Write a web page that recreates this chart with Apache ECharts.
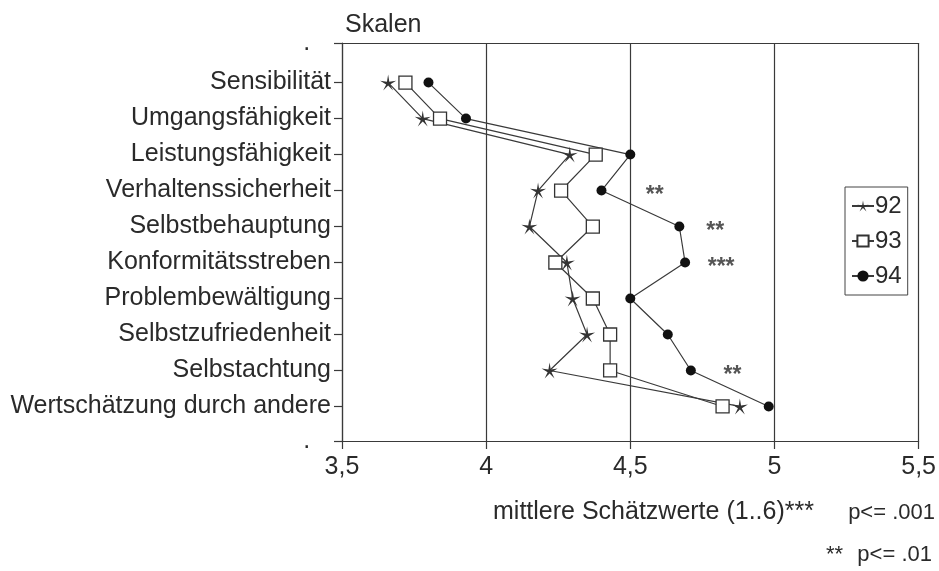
<!DOCTYPE html>
<html>
<head>
<meta charset="utf-8">
<script src="https://cdn.jsdelivr.net/npm/echarts@6/dist/echarts.min.js"></script>
<style>
  html, body { margin: 0; padding: 0; background: #fff; }
  #chart { width: 939px; height: 571px; }
</style>
</head>
<body>
<div id="chart"></div>
<script>
// Scale names, top to bottom
const scales = [
  'Sensibilität',
  'Umgangsfähigkeit',
  'Leistungsfähigkeit',
  'Verhaltenssicherheit',
  'Selbstbehauptung',
  'Konformitätsstreben',
  'Problembewältigung',
  'Selbstzufriedenheit',
  'Selbstachtung',
  'Wertschätzung durch andere'
];

// Mean ratings (1..6) per survey year
const years = ['92', '93', '94'];
const mean92 = [3.66, 3.78, 4.29, 4.18, 4.15, 4.28, 4.30, 4.35, 4.22, 4.88];
const mean93 = [3.72, 3.84, 4.38, 4.26, 4.37, 4.24, 4.37, 4.43, 4.43, 4.82];
const mean94 = [3.80, 3.93, 4.50, 4.40, 4.67, 4.69, 4.50, 4.63, 4.71, 4.98];

// Significance marks per scale, and where along the value axis they start
const sigMarks = ['', '', '', '**', '**', '***', '', '', '**', ''];
const sigPos   = [0, 0, 0, 4.55, 4.76, 4.765, 0, 0, 4.82, 0];

// X axis tick labels
const xTicks = { 3.5: '3,5', 4: '4', 4.5: '4,5', 5: '5', 5.5: '5,5' };

const FONT = 'Liberation Sans, Arial, sans-serif';
const INK = '#2a2a2a';
const LINE = '#3a3a3a';
const FS = 25;

const starPath = 'path://M50 0 L57 40 L97.55 34.55 L61.5 55.5 L79.39 90.45 L50 62 L20.61 90.45 L38.5 55.5 L2.45 34.55 L43 40 Z';

// Row positions for ticks: frame top, the ten scales, frame bottom
const rowValues = [-0.1, 1, 2, 3, 4, 5, 6, 7, 8, 9, 10, 10.96];

function toPairs(arr) {
  return arr.map((v, i) => [v, i + 1]);
}

const chart = echarts.init(document.getElementById('chart'), null, { renderer: 'canvas' });

chart.setOption({
  backgroundColor: '#fff',
  animation: false,
  title: {
    text: 'Skalen',
    left: 340,
    top: 8,
    textStyle: { fontFamily: FONT, fontSize: FS, fontWeight: 'normal', color: INK }
  },
  legend: {
    orient: 'vertical',
    left: 845,
    top: 187,
    data: years,
    itemWidth: 22,
    itemHeight: 14,
    itemGap: 11,
    padding: [7, 6, 7, 6],
    borderColor: '#444',
    borderWidth: 1,
    backgroundColor: '#fff',
    textStyle: { fontFamily: FONT, fontSize: 24, color: INK, padding: [0, 0, 0, -4] }
  },
  grid: {
    left: 342,
    right: 18,
    top: 43,
    bottom: 130
  },
  xAxis: [
    {
      type: 'value',
      position: 'bottom',
      min: 3.5,
      max: 5.5,
      interval: 0.5,
      axisLine: { show: true, onZero: false, lineStyle: { color: LINE, width: 1.2 } },
      axisTick: { show: true, length: 8, lineStyle: { color: LINE, width: 1.2 } },
      splitLine: { show: true, lineStyle: { color: LINE, width: 1.2 } },
      axisLabel: {
        margin: 14,
        fontFamily: FONT,
        fontSize: FS,
        color: INK,
        showMinLabel: true,
        showMaxLabel: true,
        formatter: v => xTicks[v] !== undefined ? xTicks[v] : ''
      }
    },
    {
      // top edge of the frame
      type: 'value',
      position: 'top',
      min: 3.5,
      max: 5.5,
      interval: 0.5,
      axisLine: { show: true, onZero: false, lineStyle: { color: LINE, width: 1.2 } },
      axisTick: { show: false },
      axisLabel: { show: false },
      splitLine: { show: false }
    }
  ],
  yAxis: {
    type: 'value',
    inverse: true,
    min: -0.1,
    max: 10.96,
    axisLine: { show: true, onZero: false, lineStyle: { color: LINE, width: 1.2 } },
    axisTick: {
      show: true,
      length: 8,
      customValues: rowValues,
      lineStyle: { color: LINE, width: 1.2 }
    },
    splitLine: { show: false },
    axisLabel: {
      margin: 11,
      fontFamily: FONT,
      fontSize: FS,
      color: INK,
      customValues: rowValues,
      formatter: v => {
        const i = Math.round(v);
        if (i >= 1 && i <= scales.length) return scales[i - 1];
        return '.   ';
      }
    }
  },
  series: [
    {
      name: years[0],
      type: 'line',
      data: toPairs(mean92),
      symbol: starPath,
      symbolSize: 16,
      lineStyle: { color: LINE, width: 1.2 },
      itemStyle: { color: '#333', borderWidth: 0 },
      z: 3
    },
    {
      name: years[1],
      type: 'line',
      data: toPairs(mean93),
      symbol: 'rect',
      symbolSize: 13,
      lineStyle: { color: LINE, width: 1.2 },
      itemStyle: { color: '#fff', borderColor: '#333', borderWidth: 1.3 },
      z: 3
    },
    {
      name: years[2],
      type: 'line',
      data: toPairs(mean94),
      symbol: 'circle',
      symbolSize: 10,
      lineStyle: { color: LINE, width: 1.2 },
      itemStyle: { color: '#111', borderWidth: 0 },
      z: 3
    },
    {
      name: 'Signifikanz',
      type: 'scatter',
      symbol: 'circle',
      symbolSize: 2,
      silent: true,
      itemStyle: { color: 'rgba(0,0,0,0)' },
      data: sigMarks
        .map((m, i) => ({ value: [sigPos[i], i + 1], mark: m }))
        .filter(d => d.mark !== ''),
      label: {
        show: true,
        position: 'right',
        distance: 0,
        offset: [0, 5],
        fontFamily: FONT,
        fontSize: 23,
        fontWeight: 'bold',
        color: INK,
        formatter: p => p.data.mark
      }
    }
  ],
  graphic: [
    {
      type: 'text',
      left: 493,
      top: 500,
      style: {
        text: 'mittlere Schätzwerte (1..6)***',
        fontFamily: FONT,
        fontSize: 25,
        fill: INK
      }
    },
    {
      type: 'text',
      right: 4,
      top: 502,
      style: {
        text: 'p<= .001',
        fontFamily: FONT,
        fontSize: 22,
        fill: INK
      }
    },
    {
      type: 'text',
      left: 826,
      top: 544,
      style: {
        text: '**',
        fontFamily: FONT,
        fontSize: 22,
        fill: INK
      }
    },
    {
      type: 'text',
      right: 7,
      top: 544,
      style: {
        text: 'p<= .01',
        fontFamily: FONT,
        fontSize: 22,
        fill: INK
      }
    }
  ]
});
</script>
</body>
</html>
